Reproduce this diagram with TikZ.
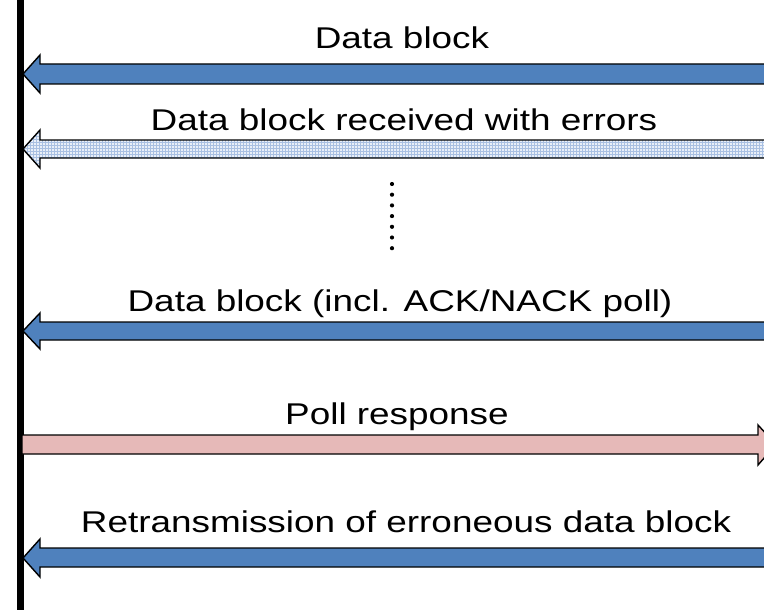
\documentclass[tikz,border=0pt]{standalone}
\usepackage{fontspec}
\setmainfont[FakeStretch=1.23]{Liberation Sans}
\usetikzlibrary{patterns}
\definecolor{bluefill}{HTML}{4F81BD}
\definecolor{pinkfill}{HTML}{E6B9B8}
\definecolor{lightfill}{HTML}{E9EFF8}
\definecolor{gridblue}{HTML}{A9C0E2}
\tikzset{
  blockarrow/.style={draw=black, line width=1.4pt, line join=miter},
  label/.style={font=\fontsize{30}{32}\selectfont, anchor=base, inner sep=0pt},
  dotmark/.style={circle, fill=black, inner sep=0pt, minimum size=4.2pt}
}
\begin{document}
\begin{tikzpicture}[x=1pt,y=-1pt]
\useasboundingbox (0,0) rectangle (764,610);
\clip (0,0) rectangle (764,610);
% lifeline
\coordinate (ltop) at (20.5,0);
\coordinate (lbot) at (20.5,610);
\draw[line width=6.7pt] (ltop) -- (lbot);
% arrow 1
\draw[blockarrow, fill=bluefill] (23,74) -- (40,55) -- (40,64) -- (790,64) -- (790,84) -- (40,84) -- (40,93) -- cycle;
\node[label] (t1) at (402,49) {Data block};
% arrow 2
\draw[blockarrow, preaction={fill=lightfill}, pattern=grid, pattern color=gridblue] (23,149) -- (40,130) -- (40,140) -- (790,140) -- (790,158) -- (40,158) -- (40,168) -- cycle;
\node[label] (t2) at (404,131) {Data block received with errors};
% dots
\foreach \i in {0,...,6} {
  \node[dotmark] (d\i) at (392,184+10.7*\i) {};
}
% arrow 3
\draw[blockarrow, fill=bluefill] (23,331) -- (40,313) -- (40,322) -- (790,322) -- (790,340) -- (40,340) -- (40,349) -- cycle;
\node[label] (t3) at (400,311) {Data block (incl. ACK/NACK poll)};
% arrow 4
\draw[blockarrow, fill=pinkfill] (22,435) -- (758,435) -- (758,425) -- (776,444.5) -- (758,465) -- (758,454) -- (22,454) -- cycle;
\node[label] (t4) at (397,424) {Poll response};
% arrow 5
\draw[blockarrow, fill=bluefill] (23,558) -- (40,539) -- (40,548) -- (790,548) -- (790,567) -- (40,567) -- (40,577) -- cycle;
\node[label] (t5) at (406,532) {Retransmission of erroneous data block};
\end{tikzpicture}
\end{document}
